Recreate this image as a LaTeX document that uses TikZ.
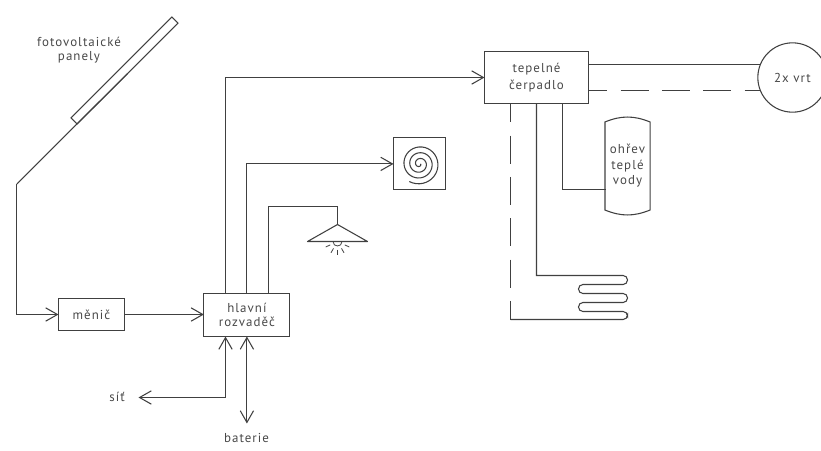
\documentclass[tikz,border=0pt]{standalone}
\usepackage{fontspec}
\setmainfont{PT Sans}
\newfontfamily\popisfont[LetterSpace=8]{PT Sans}
\usetikzlibrary{arrows.meta,positioning,calc}
\definecolor{Cara}{HTML}{404040}
\definecolor{Popis}{HTML}{484848}

\begin{document}
\begin{tikzpicture}[x=0.75pt,y=-0.75pt,
    line width=0.8pt,draw=Cara,
    >={Straight Barb[length=8.8pt,width=10pt]},
    box/.style={draw=Cara,minimum width=#1,outer sep=0pt,inner sep=0pt,align=center,
      text=Popis,font=\popisfont\fontsize{9.7}{10.9}\selectfont},
    popis/.style={text=Popis,inner sep=0pt,align=center,
      font=\popisfont\fontsize{9.7}{10.5}\selectfont},
    car/.style={dash pattern=on 21pt off 10pt,dash phase=7pt}]
  \useasboundingbox (0,0) rectangle (821,450);
  % panely
  \node[draw=Cara,rotate=45,minimum width=107pt,minimum height=6.4pt,inner sep=0pt,outer sep=0pt]
    (panel) at (124.5,70.5) {};
  \node[popis] (panelPopis) at (79,50) {fotovoltaické\\panely};
  \node[box=49.5pt,minimum height=24pt] (menic) at (91.5,314.5) {měnič};
  \node[box=64.5pt,minimum height=32.25pt] (rozvadec) at (246.9,315) {hlavní\\rozvaděč};
  \node[box=78pt,minimum height=39pt,font=\popisfont\fontsize{9.7}{12.75}\selectfont]
    (cerpadlo) at (536.5,77.5) {tepelné\\čerpadlo};
  \node[box=39pt,minimum height=39pt] (vetrak) at (419.5,163.9) {};
  \node[draw=Cara,circle,minimum size=52pt,inner sep=0pt,outer sep=0pt,text=Popis,
    font=\popisfont\fontsize{9.7}{11}\selectfont] (vrt) at (792.5,77.5) {2x vrt};
  \node[popis] (sit) at (117,397) {síť};
  \node[popis] (baterie) at (246.5,438) {baterie};
  \node[popis,minimum width=33pt,minimum height=65.25pt,
    font=\popisfont\fontsize{9.7}{11.6}\selectfont] (nadrz) at (627.5,166) {ohřev\\teplé\\vody};
  % pomocne body
  \coordinate (vstupA) at (225.5,397.5);
  \coordinate (vstupB) at (246.9,423.5);
  \coordinate (vystupC) at (268.5,206.5);
  \coordinate (sitKonec) at (138.5,397.5);
  \coordinate (lampa) at (337.5,224.5);
  \coordinate (lampaL) at (307.5,241.5);
  \coordinate (lampaP) at (367.5,241.5);
  \coordinate (zarovka) at (337.5,241.5);
  \coordinate (roh) at (16.9,184);
  \coordinate (tcA) at (510.5,103.5);
  \coordinate (tcB) at (536.5,103.5);
  \coordinate (tcC) at (562.5,103.5);
  \coordinate (nadrzVstup) at (605.5,189.5);
  \coordinate (hadK) at (510.5,319.5);
  % vedeni
  \draw (panel.south) -- (roh);
  \draw[->] (roh) |- (menic.west);
  \draw[->] (menic.east) -- (menic.east -| rozvadec.west);
  \draw[->] (rozvadec.north -| vstupA) |- (cerpadlo.west);
  \draw[->] (rozvadec.north) |- (vetrak.west);
  \draw (rozvadec.north -| vystupC) -- (vystupC) -| (lampa);
  \draw[<->] (rozvadec.south -| vstupA) |- (sitKonec);
  \draw[<->] (rozvadec.south) -- (vstupB);
  % vrt
  \draw (cerpadlo.east |- vrt.158) -- (vrt.158);
  \draw[car] (cerpadlo.east |- vrt.202) -- (vrt.202);
  % nadrz
  \draw (nadrz.south west) -- (nadrz.north west) to[bend left=22] (nadrz.north east)
    -- (nadrz.south east) to[bend left=22] cycle;
  \draw (tcC) |- (nadrzVstup);
  % topna smycka
  \draw[car] (tcA) -- (hadK);
  \draw (tcB) -- (536.5,275.5) [rounded corners=3.3pt] -- (627.5,275.5) -- (627.5,284.5) -- (578.5,284.5)
    -- (578.5,293.5) -- (627.5,293.5) -- (627.5,302.5) -- (578.5,302.5) -- (578.5,311.5)
    -- (627.5,311.5) -- (627.5,319.5) [sharp corners] -- (hadK);
  % lampa
  \draw[line join=round] (lampa) -- (lampaP) -- (lampaL) -- cycle;
  \draw[line width=0.6pt] (zarovka) ++(-4.5,0) .. controls +(0,6) and +(0,6) .. +(9,0);
  \foreach \uhel in {25,60,90,120,155}
    \draw[line width=0.6pt] ($(zarovka)+({8*cos(\uhel)},{8*sin(\uhel)})$)
      -- ($(zarovka)+({13*cos(\uhel)},{13*sin(\uhel)})$);
  % spirala
  \draw[line width=0.8pt,shift={(vetrak.center)}] plot[smooth,samples=120,domain=0:1200]
    ({(1+\x/62)*cos(\x)},{(1+\x/62)*sin(\x)});
\end{tikzpicture}
\end{document}
